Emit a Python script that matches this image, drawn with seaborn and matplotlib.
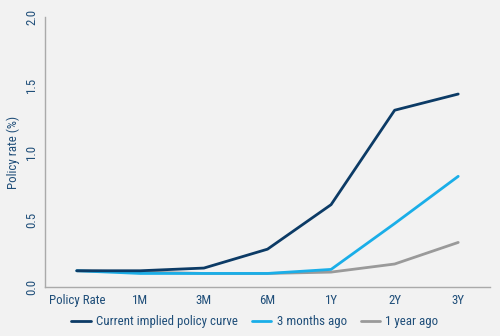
import matplotlib
matplotlib.use("Agg")
import matplotlib.pyplot as plt
import seaborn as sns
import pandas as pd
from matplotlib import font_manager
from matplotlib.lines import Line2D

tenors = ["Policy Rate", "1M", "3M", "6M", "1Y", "2Y", "3Y"]
current = [0.12, 0.12, 0.14, 0.28, 0.61, 1.31, 1.43]
three_months = [0.12, 0.10, 0.10, 0.10, 0.13, 0.47, 0.82]
one_year = [0.12, 0.11, 0.10, 0.10, 0.11, 0.17, 0.33]
series_names = ["Current implied policy curve", "3 months ago", "1 year ago"]
colors = ["#0c3b66", "#1aaee8", "#9a9a9a"]

sns.set_theme(style="white")
names = {f.name for f in font_manager.fontManager.ttflist}
fam = "DejaVu Sans"
narrow = False
for cand in ["Roboto Condensed", "Liberation Sans Narrow", "Open Sans Condensed", "Roboto", "Liberation Sans"]:
    if cand in names:
        fam = cand
        narrow = ("Condensed" in cand) or ("Narrow" in cand)
        break
plt.rcParams["font.family"] = [fam, "DejaVu Sans"]
fs = 9.3 if narrow else 8.5

rows = []
for name, vals in zip(series_names, [current, three_months, one_year]):
    for i, (t, v) in enumerate(zip(tenors, vals)):
        rows.append({"pos": i, "tenor": t, "value": v, "series": name})
df = pd.DataFrame(rows)

bg = "#f2f2f2"
txt = "#1f4e79"
fig = plt.figure(figsize=(5, 3.36), dpi=100, facecolor=bg)
ax = fig.add_axes([0.09, 0.146, 0.89, 0.803])
ax.set_facecolor(bg)
sns.lineplot(data=df, x="pos", y="value", hue="series", hue_order=series_names[::-1],
             palette=dict(zip(series_names, colors)), linewidth=2, ax=ax, legend=False)

ax.set_xlim(-0.5, 6.5)
ax.set_ylim(0, 2.0)
ax.set_xticks(range(len(tenors)))
ax.set_xticklabels(tenors, color=txt, fontsize=fs)
ax.set_yticks([0, 0.5, 1.0, 1.5, 2.0])
ax.set_yticklabels(["0.0", "0.5", "1.0", "1.5", "2.0"], rotation=90, va="center", color=txt, fontsize=fs)
ax.tick_params(axis="both", length=0, pad=5)
ax.set_xlabel("")
ax.set_ylabel("Policy rate (%)", color=txt, fontsize=fs, labelpad=4)
for s in ["top", "right"]:
    ax.spines[s].set_visible(False)
for s in ["left", "bottom"]:
    ax.spines[s].set_color("#aaaaaa")
    ax.spines[s].set_linewidth(1)

handles = [Line2D([0], [0], color=c, lw=2) for c in colors]
leg = fig.legend(handles, series_names, loc="center", bbox_to_anchor=(0.51, 0.043), ncol=3,
                 frameon=False, fontsize=fs, handlelength=1.5, columnspacing=1.1, handletextpad=0.4)
for t in leg.get_texts():
    t.set_color(txt)

fig.savefig("out.png", dpi=100, facecolor=bg)
